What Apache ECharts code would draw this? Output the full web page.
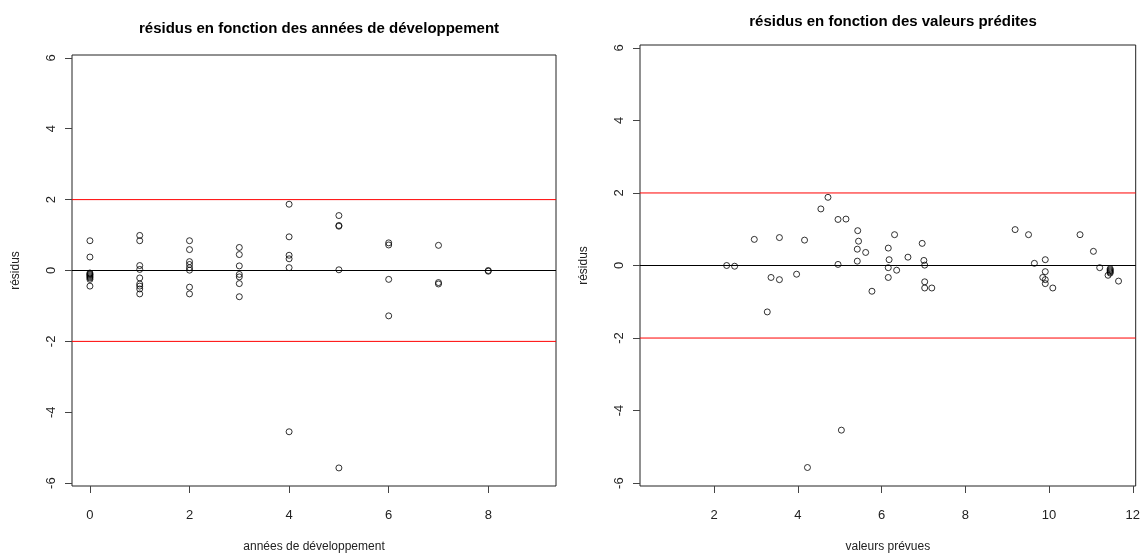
<!DOCTYPE html>
<html>
<head>
<meta charset="utf-8">
<script src="https://cdn.jsdelivr.net/npm/echarts@6/dist/echarts.min.js"></script>
<style>
html,body{margin:0;padding:0;background:#fff;}
#chart{width:1143px;height:558px;}
</style>
</head>
<body>
<div id="chart"></div>
<script>
// ---- Left panel: residuals vs development year ----
const devYears = [0,0,0,0,0,0,0,0,0,0, 1,1,1,1,1,1,1,1,1, 2,2,2,2,2,2,2,2, 3,3,3,3,3,3,3, 4,4,4,4,4,4, 5,5,5,5,5, 6,6,6,6, 7,7,7, 8,8];
const devResiduals = [0.84,0.38,-0.07,-0.10,-0.12,-0.15,-0.18,-0.21,-0.25,-0.44,
  0.99,0.84,0.14,0.03,-0.21,-0.38,-0.44,-0.52,-0.66,
  0.84,0.59,0.25,0.17,0.08,0.01,-0.47,-0.66,
  0.65,0.45,0.13,-0.11,-0.18,-0.37,-0.74,
  1.87,0.95,0.43,0.33,0.08,-4.55,
  1.55,1.27,1.25,0.02,-5.57,
  0.78,0.72,-0.25,-1.28,
  0.71,-0.34,-0.38,
  0.00,-0.02];

// ---- Right panel: residuals vs predicted values ----
const predicted = [2.30,2.49,2.96,3.36,3.56,3.56,3.27,3.97,4.16,4.55,4.72,4.96,5.15,4.96,5.43,5.45,5.42,5.62,5.42,5.77,
  6.16,6.31,6.18,6.16,6.36,6.16,6.63,6.97,7.01,7.03,7.03,7.03,7.20,
  9.19,9.51,9.65,9.91,9.91,9.85,9.91,9.91,10.09,
  10.74,11.06,11.21,11.46,11.46,11.46,11.46,11.46,11.41,11.66,5.04,4.23];
const predResiduals = [0.00,-0.02,0.72,-0.33,0.77,-0.39,-1.28,-0.24,0.70,1.56,1.88,1.27,1.28,0.03,0.96,0.67,0.45,0.36,0.12,-0.71,
  0.48,0.85,0.16,-0.06,-0.13,-0.33,0.23,0.61,0.14,0.01,-0.45,-0.62,-0.62,
  0.99,0.85,0.06,0.16,-0.17,-0.33,-0.39,-0.50,-0.62,
  0.85,0.39,-0.06,-0.09,-0.12,-0.15,-0.18,-0.21,-0.27,-0.43,-4.54,-5.57];

// ---- Axis ranges, tick labels, reference lines ----
const xRangeLeft = [-0.36, 9.36];
const xRangeRight = [0.23, 12.07];
const yRange = [-6.08, 6.08];
const yTicks = [-6,-4,-2,0,2,4,6];
const xTicksLeft = [0,2,4,6,8];
const xTicksRight = [2,4,6,8,10,12];
const redLines = [2,-2];
const zeroLine = [0];

const titles = ["résidus en fonction des années de développement", "résidus en fonction des valeurs prédites"];
const xNames = ["années de développement", "valeurs prévues"];
const yName = "résidus";

const FONT = "'Liberation Sans', Arial, sans-serif";
const chart = echarts.init(document.getElementById('chart'), null, {renderer:'canvas'});

function xAxis(gridIndex, range, ticks, name){
  return {
    type:'value', gridIndex, min:range[0], max:range[1], name, nameLocation:'middle', nameGap:55,
    nameTextStyle:{fontFamily:FONT,fontSize:12,color:'#222'},
    axisLine:{show:false,onZero:false},
    axisTick:{show:true,length:7,customValues:ticks,lineStyle:{color:'#444',width:1}},
    axisLabel:{show:true,customValues:ticks,margin:23,fontFamily:FONT,fontSize:13,color:'#222'},
    splitLine:{show:false}
  };
}
function yAxis(gridIndex){
  return {
    type:'value', gridIndex, min:yRange[0], max:yRange[1], name:yName, nameLocation:'middle', nameGap:50,
    nameTextStyle:{fontFamily:FONT,fontSize:12,color:'#222'},
    axisLine:{show:false,onZero:false},
    axisTick:{show:true,length:7,customValues:yTicks,lineStyle:{color:'#444',width:1}},
    axisLabel:{show:true,customValues:yTicks,rotate:90,margin:14,fontFamily:FONT,fontSize:13,color:'#222'},
    splitLine:{show:false}
  };
}
function hLine(axisIdx, range, v, color){
  return {
    type:'line', xAxisIndex:axisIdx, yAxisIndex:axisIdx, silent:true, symbol:'none',
    lineStyle:{color:color,width:1,type:'solid'}, itemStyle:{color:color},
    data:[[range[0],v],[range[1],v]], z:1
  };
}
const circle = {color:'rgba(0,0,0,0)', borderColor:'#000', borderWidth:1};

const refLines = [];
redLines.forEach(v=>{ refLines.push(hLine(0,xRangeLeft,v,'#ff0000')); refLines.push(hLine(1,xRangeRight,v,'#ff0000')); });
zeroLine.forEach(v=>{ refLines.push(hLine(0,xRangeLeft,v,'#000000')); refLines.push(hLine(1,xRangeRight,v,'#000000')); });

chart.setOption({
  animation:false,
  backgroundColor:'#fff',
  title:[
    {text:titles[0], left:314, top:16, textAlign:'center', textStyle:{fontFamily:FONT,fontSize:15,fontWeight:'bold',color:'#000'}},
    {text:titles[1], left:888, top:9, textAlign:'center', textStyle:{fontFamily:FONT,fontSize:15,fontWeight:'bold',color:'#000'}}
  ],
  grid:[
    {left:72, top:55, width:484, height:433, show:true, borderColor:'#222', borderWidth:1, backgroundColor:'transparent'},
    {left:640, top:45, width:496, height:441, show:true, borderColor:'#222', borderWidth:1, backgroundColor:'transparent'}
  ],
  xAxis:[ xAxis(0,xRangeLeft,xTicksLeft,xNames[0]), xAxis(1,xRangeRight,xTicksRight,xNames[1]) ],
  yAxis:[ yAxis(0), yAxis(1) ],
  series: refLines.concat([
    {type:'scatter', xAxisIndex:0, yAxisIndex:0, symbol:'circle', symbolSize:6, itemStyle:circle, z:3,
     data: devYears.map((d,i)=>[d,devResiduals[i]])},
    {type:'scatter', xAxisIndex:1, yAxisIndex:1, symbol:'circle', symbolSize:6, itemStyle:circle, z:3,
     data: predicted.map((p,i)=>[p,predResiduals[i]])}
  ])
});
</script>
</body>
</html>
